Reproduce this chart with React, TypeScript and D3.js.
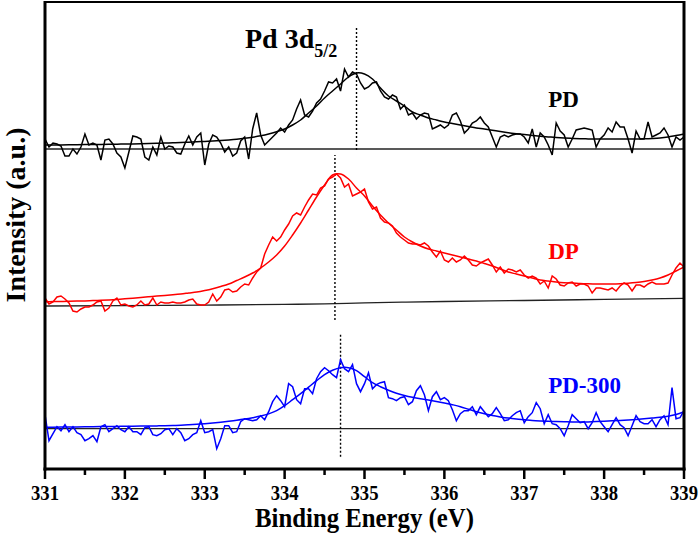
import React from 'react';
import * as d3 from 'd3';

// Binding energy ticks (eV)
const energyTicks = [331, 332, 333, 334, 335, 336, 337, 338, 339];
const minorTicks = [331.5, 332.5, 333.5, 334.5, 335.5, 336.5, 337.5, 338.5];

// raw spectra, 0.05 eV steps from 331 to 339 (intensity above each trace's own baseline)
const pdRaw = [
  10, 2, 6, 5, 3, -7, -7, 0, -5, 2,
  15, 4, 6, 4, -11, 9, 10, 5, -4, -8,
  -19, -3, 13, 12, 10, -8, -11, 2, -6, 12,
  0, 3, 2, -4, -5, 5, 13, 4, 12, 16,
  -16, 5, 14, 12, 6, -3, 2, -7, -4, 8,
  12, -10, 20, 36, 14, 4, 8, 12, 16, 21,
  17, 24, 29, 40, 49, 34, 32, 38, 46, 50,
  58, 67, 66, 70, 58, 80, 72, 77, 75, 66,
  60, 62, 66, 67, 58, 52, 50, 54, 52, 40,
  44, 34, 36, 30, 34, 36, 35, 20, 22, 24,
  21, 24, 34, 36, 28, 16, 20, 26, 28, 32,
  26, 22, 12, 2, 12, 14, 12, 14, 15, 15,
  12, 6, 20, 2, 16, 12, 4, -6, 26, 18,
  14, 2, 10, 19, 20, 21, 20, 19, 2, 10,
  14, 21, 17, 27, 22, 22, 10, -4, 18, 10,
  10, 27, 12, 14, 16, 21, 14, 2, 12, 9,
  12,
];

const dpRaw = [
  8, 2, 4, 9, 10, 7, 3, -5, -6, -3,
  -1, -1, 1, 4, 5, -5, -2, 5, 8, 1,
  2, 0, -1, 1, 5, 1, 2, 8, 1, 4,
  3, 3, 4, 3, 3, 4, 6, 7, 2, 1,
  1, 4, 12, 5, 9, 16, 17, 14, 15, 19,
  22, 21, 28, 34, 38, 52, 61, 69, 65, 69,
  76, 82, 90, 93, 91, 99, 106, 112, 111, 118,
  120, 127, 129, 132, 128, 119, 122, 110, 112, 114,
  117, 104, 97, 99, 88, 84, 83, 80, 73, 69,
  66, 63, 62, 62, 61, 63, 60, 54, 49, 55,
  46, 44, 48, 44, 46, 50, 46, 41, 40, 43,
  45, 47, 41, 34, 39, 33, 37, 36, 34, 36,
  31, 28, 30, 28, 22, 25, 18, 30, 27, 21,
  20, 23, 24, 20, 22, 22, 20, 13, 18, 18,
  17, 16, 18, 15, 20, 23, 21, 15, 21, 21,
  19, 22, 24, 22, 22, 22, 23, 31, 38, 43,
  39,
];

const pd300Raw = [
  14, -12, -5, 2, -2, 4, -3, 2, -4, -6,
  -12, -10, -7, -13, 2, 4, -3, 0, 3, -1,
  -3, 2, -3, -3, -6, 1, 2, -6, -7, -5,
  -1, 0, -6, 0, -4, -12, -10, -6, -4, 8,
  -4, -3, -1, -20, -10, 3, 3, -4, -3, 7,
  10, 9, 8, 9, 13, 9, 17, 27, 33, 28,
  22, 45, 42, 29, 25, 40, 40, 35, 50, 57,
  61, 58, 54, 51, 69, 60, 57, 64, 45, 37,
  45, 56, 40, 44, 46, 47, 31, 30, 28, 31,
  32, 24, 27, 38, 43, 34, 18, 32, 37, 29,
  31, 28, 19, 8, 15, 18, 18, 22, 14, 22,
  17, 12, 15, 21, 15, 8, 9, 13, 16, 18,
  6, 12, 16, 26, 20, 5, 14, 5, 4, 0,
  -7, 3, 14, 10, 6, 7, 0, 6, 16, 7,
  2, -3, 4, 11, 4, 1, -7, 3, 13, 7,
  5, 5, 9, 2, 9, 13, 4, 41, 10, 11,
  18,
];

// fitted envelopes, 0.1 eV steps from 331 to 339
const pdFit = [
  4.0, 4.0, 4.1, 4.2, 4.3, 4.4, 4.5, 4.6, 4.7, 4.8,
  5.0, 5.1, 5.3, 5.5, 5.7, 6.0, 6.2, 6.5, 6.8, 7.2,
  7.6, 8.0, 8.5, 9.1, 9.8, 10.7, 11.8, 13.2, 15.0, 17.3,
  20, 24, 29, 36, 43, 51, 58, 65, 72, 76,
  75, 70, 61, 53, 48, 43, 37, 34, 31, 29,
  27, 25.5, 24, 22.5, 21, 20, 18.8, 17.5, 16.3, 15.3,
  14.4, 13.6, 12.8, 12.1, 11.5, 11, 10.6, 10.3, 10.1, 10,
  10, 10, 10, 10, 10, 10.2, 10.5, 11, 12, 13.5,
  15,
];

const dpFit = [
  4.3, 4.4, 4.5, 4.7, 4.9, 5.1, 5.4, 5.7, 6.1, 6.6,
  7.2, 7.8, 8.5, 9.2, 9.9, 10.5, 11.2, 12, 13, 14,
  15.5, 17.3, 19.5, 22, 25.5, 29, 33, 38, 44, 51,
  60, 71, 83, 96, 109, 121, 131, 132, 127, 118,
  110, 100, 91, 83, 76, 69, 64, 60, 57, 55,
  53, 51, 49, 47, 45, 42.5, 40, 37, 34, 32,
  30, 28, 26, 25, 24, 23.3, 23, 22.5, 22.2, 22,
  22, 22, 22.3, 22.8, 23.5, 24.5, 26, 28, 31, 35,
  39,
];

const pd300Fit = [
  1.4, 1.5, 1.6, 1.7, 1.8, 1.9, 2.0, 2.1, 2.2, 2.3,
  2.4, 2.5, 2.6, 2.7, 2.8, 3.0, 3.2, 3.5, 3.9, 4.4,
  5.0, 5.7, 6.5, 7.4, 8.4, 9.6, 11, 12.6, 14.8, 18,
  23, 29, 35, 41.5, 48, 54, 58.5, 61, 61, 58,
  52, 46, 42, 38.5, 35.5, 33.3, 31.5, 30, 28.7, 27.3,
  25.8, 24, 22, 19.5, 17, 15, 13.2, 11.8, 10.6, 9.7,
  9, 8.3, 7.8, 7.4, 7.1, 6.9, 6.7, 6.7, 6.8, 7.1,
  7.5, 7.9, 8.3, 8.8, 9.3, 9.9, 10.6, 11.4, 12.5, 14.2,
  17,
];

// Shirley-type background under DP
const dpBgEnergy = [331, 332, 333, 334, 334.5, 335, 335.5, 336, 337, 338, 339];
const dpBg = [0, 0.4, 0.9, 1.6, 2.2, 3.1, 3.9, 4.5, 5.5, 6.6, 7.7];

const seriesNames = ['PD', 'DP', 'PD-300'];
const seriesColors = ['#000000', '#ff0000', '#0000ff'];
const seriesOffsets = [320, 163, 40.3];
const peakCenters = [334.9, 334.63, 334.7];
const peakMarkerSpan = [[-1, 123], [-14, 151], [-28, 94]];

const W = 700;
const H = 536;
const margin = { top: 2, right: 16, bottom: 67, left: 45 };

const App = () => {
  const x = d3.scaleLinear().domain([331, 339]).range([margin.left, W - margin.right]);
  const y = d3.scaleLinear().domain([0, 467]).range([H - margin.bottom, margin.top]);

  const rawE = pdRaw.map((_, i) => 331 + i * 0.05);
  const fitE = pdFit.map((_, i) => 331 + i * 0.1);

  const raws = [pdRaw, dpRaw, pd300Raw];
  const fits = [pdFit, dpFit, pd300Fit];

  const rawLine = (vals, off) =>
    d3.line<number>().x((_, i) => x(rawE[i])).y((d) => y(d + off))(vals);
  const fitLine = (vals, off) =>
    d3.line<number>().x((_, i) => x(fitE[i])).y((d) => y(d + off)).curve(d3.curveCatmullRom)(vals);
  const bgLine = d3
    .line<number>()
    .x((_, i) => x(dpBgEnergy[i]))
    .y((d) => y(d + seriesOffsets[1]))
    .curve(d3.curveMonotoneX)(dpBg);

  const x0 = x(331);
  const x1 = x(339);
  const yb = y(0);
  const font = "'Liberation Serif', 'Times New Roman', serif";

  // label anchors
  const labelX = x(337.3);
  const labelRise = [42, 47, 36];

  return (
    <svg width={W} height={H} style={{ position: 'absolute', left: 0, top: 0 }} fontFamily={font}>
      <rect width={W} height={H} fill="#fff" />

      {/* baselines */}
      <line x1={x0} x2={x1} y1={y(seriesOffsets[0])} y2={y(seriesOffsets[0])} stroke="#222" strokeWidth={1.3} />
      <path d={bgLine} fill="none" stroke="#222" strokeWidth={1.3} />
      <line x1={x0} x2={x1} y1={y(seriesOffsets[2])} y2={y(seriesOffsets[2])} stroke="#222" strokeWidth={1.3} />

      {/* peak markers */}
      {peakCenters.map((c, i) => (
        <line
          key={'m' + i}
          x1={x(c)}
          x2={x(c)}
          y1={y(seriesOffsets[i] + peakMarkerSpan[i][0])}
          y2={y(seriesOffsets[i] + peakMarkerSpan[i][1])}
          stroke="#000"
          strokeWidth={1.4}
          strokeDasharray="2,2"
        />
      ))}

      {raws.map((r, i) => (
        <g key={'s' + i} fill="none" stroke={seriesColors[i]} strokeWidth={1.5}>
          <path d={rawLine(r, seriesOffsets[i])} strokeLinejoin="miter" />
          <path d={fitLine(fits[i], seriesOffsets[i])} />
        </g>
      ))}

      {/* frame */}
      <line x1={x0} x2={x1} y1={margin.top} y2={margin.top} stroke="#000" strokeWidth={2} />
      <line x1={x0} x2={x0} y1={margin.top - 1} y2={yb + 1.5} stroke="#000" strokeWidth={3} />
      <line x1={x1} x2={x1} y1={margin.top - 1} y2={yb + 1.5} stroke="#000" strokeWidth={3} />
      <line x1={x0 - 1.5} x2={x1 + 1.5} y1={yb} y2={yb} stroke="#000" strokeWidth={3} />

      {energyTicks.map((t) => (
        <g key={'t' + t}>
          <line x1={x(t)} x2={x(t)} y1={yb} y2={yb + 10} stroke="#000" strokeWidth={2.5} />
          <text
            x={x(t)}
            y={yb + 31}
            textAnchor="middle"
            fontSize={21}
            fontWeight="bold"
            textLength={28}
            lengthAdjust="spacingAndGlyphs"
          >
            {t}
          </text>
        </g>
      ))}
      {minorTicks.map((t) => (
        <line key={'n' + t} x1={x(t)} x2={x(t)} y1={yb} y2={yb + 6} stroke="#000" strokeWidth={2.5} />
      ))}

      <text
        x={(x0 + x1) / 2}
        y={527}
        textAnchor="middle"
        fontSize={27}
        fontWeight="bold"
        textLength={219}
        lengthAdjust="spacingAndGlyphs"
      >
        Binding Energy (eV)
      </text>
      <text
        transform={`translate(25,215) rotate(-90)`}
        textAnchor="middle"
        fontSize={28}
        fontWeight="bold"
      >
        Intensity (a.u.)
      </text>

      <text x={245} y={48} fontSize={28} fontWeight="bold">
        Pd 3d
        <tspan fontSize={18} dy={9}>5/2</tspan>
      </text>

      {seriesNames.map((n, i) => (
        <text
          key={n}
          x={labelX}
          y={y(seriesOffsets[i] + labelRise[i])}
          fontSize={23}
          fontWeight="bold"
          fill={seriesColors[i]}
        >
          {n}
        </text>
      ))}
    </svg>
  );
};

export default App;
